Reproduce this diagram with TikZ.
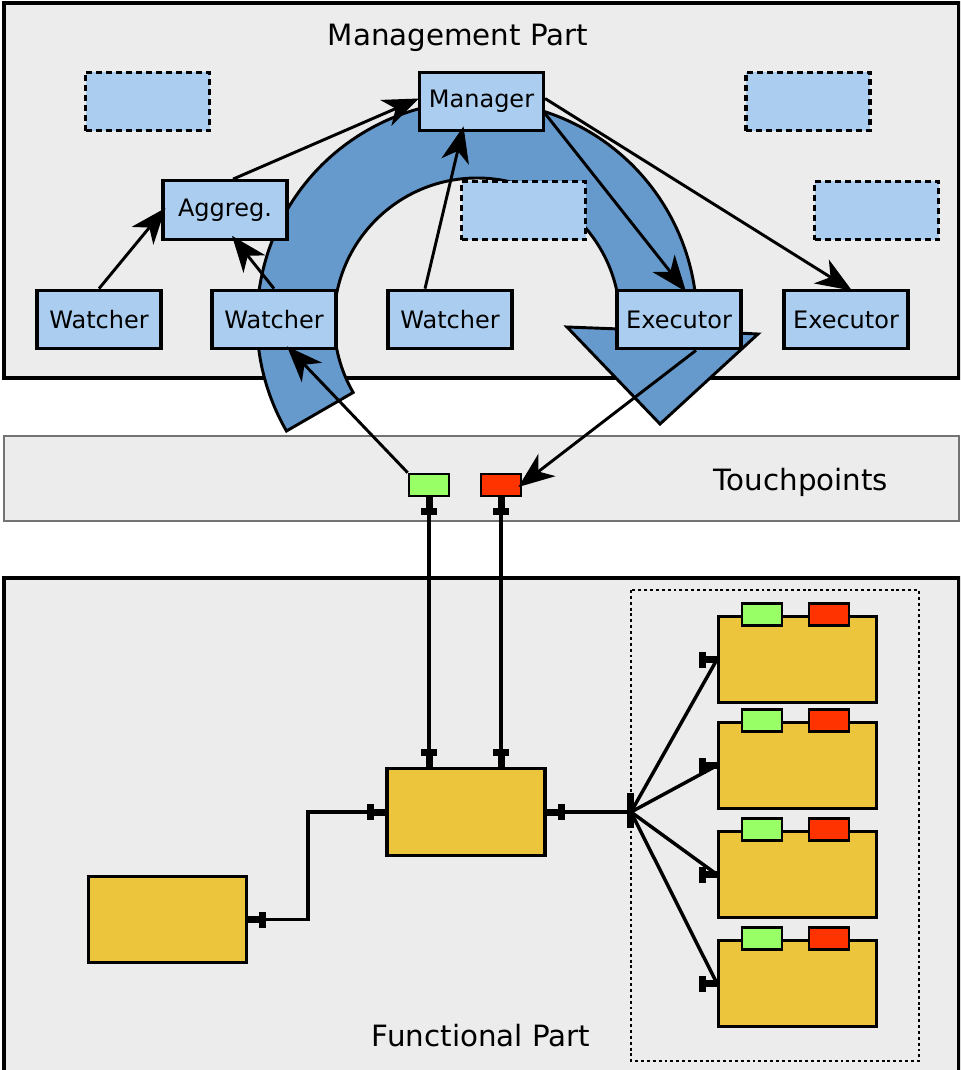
\documentclass[tikz,border=0pt]{standalone}
\usepackage{fontspec}
\setmainfont{DejaVu Sans}
\usetikzlibrary{arrows.meta,calc}
\definecolor{panelgray}{RGB}{236,236,236}
\definecolor{compblue}{RGB}{171,205,239}
\definecolor{arcblue}{RGB}{102,153,204}
\definecolor{unityellow}{RGB}{236,197,61}
\definecolor{tpgreen}{RGB}{153,255,102}
\definecolor{tpred}{RGB}{255,51,0}
\tikzset{
  panel/.style={draw, line width=2.4pt, fill=panelgray},
  title/.style={font=\fontsize{22}{26}\selectfont},
  comp/.style={draw, line width=2.3pt, fill=compblue, minimum width=93pt, minimum height=44pt, inner sep=0pt, font=\fontsize{18}{20}\selectfont},
  ghost/.style={comp, dash pattern=on 4.5pt off 3pt},
  fbox/.style={draw, line width=2.3pt, fill=unityellow, minimum width=118.5pt, minimum height=65pt, inner sep=0pt},
  tp/.style={draw, line width=2pt, minimum width=30pt, minimum height=16.5pt, inner sep=0pt},
  tpin/.style={tp, fill=tpgreen},
  tpout/.style={tp, fill=tpred},
  cycleband/.style={fill=arcblue, draw, line width=2.2pt},
  arr/.style={line width=2.2pt, -{Stealth[length=27pt,width=21pt,inset=8pt]}},
  wire/.style={line width=2.6pt},
  plug/.pic={\fill (0,-3.5) rectangle (11,3.5); \fill (11,-8) rectangle (18,8);}
}
\begin{document}
\begin{tikzpicture}[x=0.75pt,y=-0.75pt]
\clip (0,0) rectangle (960,1070);
% panels
\draw[panel] (4,3) rectangle (959,378);
\draw[fill=panelgray, draw=black!55, line width=1.5pt] (4,436) rectangle (959,521);
\draw[panel] (4,578) rectangle (959,1090);
\node[title] (mtitle) at (458,38) {Management Part};
\node[title] (ttitle) at (801,482) {Touchpoints};
\node[title] (ftitle) at (481,1036) {Functional Part};
% control loop
\coordinate (hub) at (477,321);
\filldraw[cycleband] ($(hub)+(150:220)$) arc[start angle=150, end angle=360, radius=220]
  -- (697,331) -- (758,334) -- (660,424) -- (567,327) -- (620,329)
  -- ($(hub)+(0:143)$) arc[start angle=360, end angle=150, radius=143] -- cycle;
% management components
\node[ghost] (g1) at (147.5,101.5) {};
\node[ghost] (g2) at (808,101.5) {};
\node[ghost] (g3) at (523.5,210.5) {};
\node[ghost] (g4) at (876.5,210.5) {};
\node[comp] (mgr) at (481.5,101.5) {Manager};
\node[comp] (agg) at (225,210) {Aggreg.};
\node[comp] (w1) at (99,319.5) {Watcher};
\node[comp] (w2) at (274,319.5) {Watcher};
\node[comp] (w3) at (450,319.5) {Watcher};
\node[comp] (ex1) at (679,319.5) {Executor};
\node[comp] (ex2) at (846,319.5) {Executor};
% touchpoints
\node[tpin] (tpg) at (429,485) {};
\node[tpout] (tpr) at (501,485) {};
% information flow
\draw[arr] (w1.north) -- ($(agg.west)+(4,-2)$);
\draw[arr] ($(agg.north)+(8,0)$) -- ($(mgr.west)+(1,-3)$);
\draw[arr] (w2.north) -- ($(agg.south)+(7,-5)$);
\draw[arr] ($(w3.north)+(-25,0)$) -- ($(mgr.south)+(-18,-6)$);
\draw[arr] ($(mgr.east)+(0,12)$) -- ($(ex1.north)+(7,3)$);
\draw[arr] ($(mgr.east)+(0,-3)$) -- ($(ex2.north)+(6,2)$);
\draw[arr] (tpg.north west) -- ($(w2.south)+(13,-4)$);
\draw[arr] ($(ex1.south)+(17,0)$) -- ($(tpr.east)+(-4,2)$);
% functional part
\draw[line width=2.2pt, dash pattern=on 2.2pt off 2.2pt] (631,590) rectangle (919,1061);
\node[fbox] (fmain) at (466,812) {};
\node[fbox] (fleft) at (167.5,919.5) {};
\coordinate (bus) at (631,812);
\draw[wire] (tpg.south) -- (tpg.south |- fmain.north);
\draw[wire] (tpr.south) -- (tpr.south |- fmain.north);
\draw[wire] (fleft.east) -- ++(60,0) |- (fmain.west);
\draw[wire] (fmain.east) -- (bus);
\fill ($(bus)+(-4,-19)$) rectangle ($(bus)+(3,16)$);
\pic[rotate=270] at (tpg.south) {plug};
\pic[rotate=270] at (tpr.south) {plug};
\pic[rotate=90] at (tpg.south |- fmain.north) {plug};
\pic[rotate=90] at (tpr.south |- fmain.north) {plug};
\pic at (fleft.east) {plug};
\pic[rotate=180] at (fmain.west) {plug};
\pic at (fmain.east) {plug};
\foreach \i/\y in {1/659.5, 2/765.5, 3/874.5, 4/983.5} {
  \node[fbox] (fsub\i) at (797.5,\y) {};
  \node[tpin] (fsubin\i) at ($(fsub\i.north west)+(45,0)$) {};
  \node[tpout] (fsubout\i) at ($(fsub\i.north west)+(112,0)$) {};
  \draw[wire] (bus) -- (fsub\i.west);
  \pic[rotate=180] at (fsub\i.west) {plug};
}
\end{tikzpicture}
\end{document}
